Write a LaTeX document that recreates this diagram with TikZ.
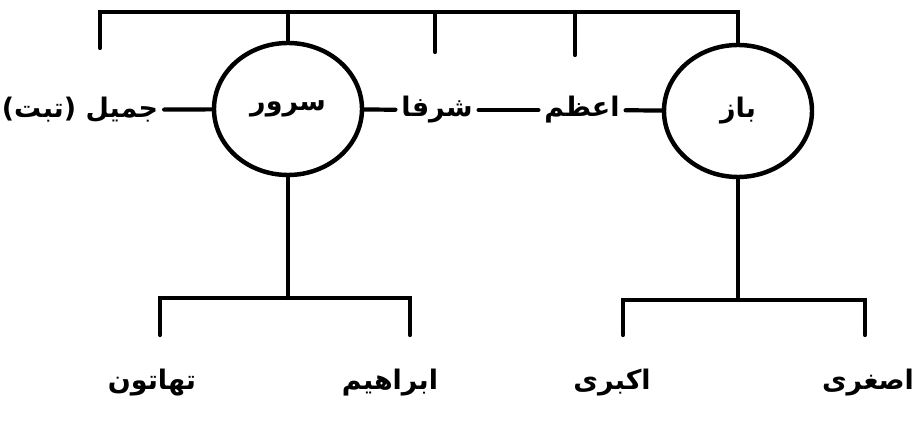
\documentclass[tikz,border=0pt]{standalone}
\usepackage{fontspec}
\usepackage{tikz}
\usetikzlibrary{shapes.geometric, positioning, calc}
\TeXXeTstate=1
\newfontfamily\urdufont[Script=Arabic]{DejaVu Sans}
\newcommand{\ur}[1]{\urdufont\bfseries\beginR #1\endR}
\tikzset{
    person_oval/.style={
        ellipse, draw=black, line width=3.8pt, inner sep=0pt,
        minimum width=4.44cm, minimum height=3.96cm,
        font=\fontsize{23}{27}\selectfont
    },
    name_lbl/.style={
        inner sep=5pt, font=\fontsize{23}{27}\selectfont
    },
    tie_line/.style={
        draw=black, line width=3.6pt, line cap=round
    }
}

\begin{document}
\begin{tikzpicture}[x=0.03cm, y=-0.03cm]
    \useasboundingbox (0,0) rectangle (920,433);

    % Generation 1: the two parents in ovals
    \node[person_oval] (sarwar) at (288,109) {\ur{سرور}};
    \node[person_oval] (baz) at (738,111) {\ur{باز}};

    % Generation 1: siblings in the same row
    \node[name_lbl] (jamil) at (80,110) {\ur{جمیل (تبت)}};
    \node[name_lbl] (shurfa) at (437,110) {\ur{شرفا}};
    \node[name_lbl] (azam) at (582,110) {\ur{اعظم}};

    % Generation 2: children
    \node[name_lbl] (thaton) at (152,383) {\ur{تھاتون}};
    \node[name_lbl] (ibrahim) at (390,383) {\ur{ابراهیم}};
    \node[name_lbl] (akbari) at (612,383) {\ur{اکبری}};
    \node[name_lbl] (asghari) at (868,383) {\ur{اصغری}};

    % Top bar and its drops
    \coordinate (barL) at (100,12);
    \coordinate (barR) at (738,12);
    \coordinate (jamilTop) at (100,48);
    \coordinate (shurfaTop) at (435,52);
    \coordinate (azamTop) at (575,55);
    \draw[tie_line] (jamilTop) -- (barL) -- (barR) -- (baz.north);
    \draw[tie_line] (sarwar.north |- barL) -- (sarwar.north);
    \draw[tie_line] (shurfaTop |- barL) -- (shurfaTop);
    \draw[tie_line] (azamTop |- barL) -- (azamTop);

    % Row links through the ovals
    \draw[tie_line] (jamil) -- (sarwar);
    \draw[tie_line] (sarwar) -- (shurfa);
    \draw[tie_line] (shurfa) -- (azam);
    \draw[tie_line] (azam) -- (baz);

    % Children of sarwar
    \coordinate (sarwarFork) at (288,298);
    \coordinate (thatonTop) at (160,335);
    \coordinate (ibrahimTop) at (410,335);
    \draw[tie_line] (sarwar.south) -- (sarwarFork);
    \draw[tie_line] (thatonTop) |- (sarwarFork) -| (ibrahimTop);

    % Children of baz
    \coordinate (bazFork) at (738,300);
    \coordinate (akbariTop) at (623,335);
    \coordinate (asghariTop) at (865,335);
    \draw[tie_line] (baz.south) -- (bazFork);
    \draw[tie_line] (akbariTop) |- (bazFork) -| (asghariTop);

\end{tikzpicture}
\end{document}
